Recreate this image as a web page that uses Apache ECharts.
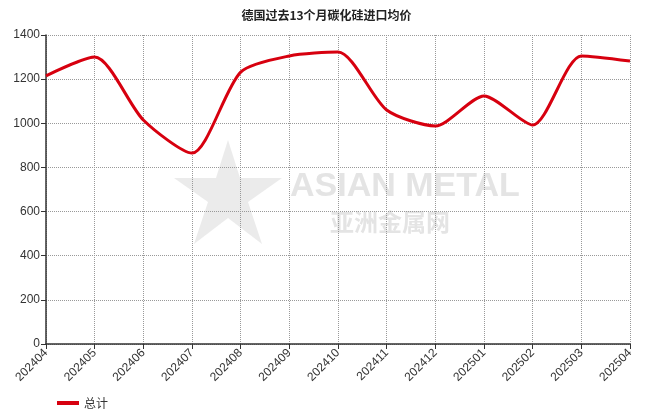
<!DOCTYPE html>
<html><head><meta charset="utf-8">
<script src="https://cdn.jsdelivr.net/npm/echarts@6/dist/echarts.min.js"></script>
<style>html,body{margin:0;padding:0;background:#fff}#c{width:653px;height:417px}</style>
</head><body><div id="c"></div>
<script>
var categories = ['202404','202405','202406','202407','202408','202409','202410','202411','202412','202501','202502','202503','202504'];
var totalValues = [1215, 1300, 1015, 865, 1232, 1305, 1323, 1060, 988, 1124, 992, 1305, 1282];
var yTicks = [0, 200, 400, 600, 800, 1000, 1200, 1400];

var chart = echarts.init(document.getElementById('c'));
chart.setOption({
  animation: false,
  backgroundColor: '#fff',
  title: {
    text: '德国过去13个月碳化硅进口均价',
    left: 'center', top: 4,
    textStyle: {fontSize: 12, fontWeight: 'bold', color: '#222', fontFamily: 'Noto Sans CJK SC'}
  },
  graphic: [
    {type: 'polygon', silent: true, z: -1, shape: {points: [[228,140],[240,178],[282,178],[248,202],[262,244],[228,218],[194,244],[208,202],[174,178],[216,178]]}, style: {fill: 'rgba(215,215,215,0.5)'}},
    {type: 'text', left: 290, top: 170, z: -1, style: {text: 'ASIAN METAL', fontSize: 34, fontWeight: 'bold', fill: 'rgba(205,205,205,0.55)', fontFamily: 'Liberation Sans'}},
    {type: 'text', left: 330, top: 210, z: -1, style: {text: '亚洲金属网', fontSize: 24, fontWeight: 'bold', fill: 'rgba(205,205,205,0.55)', fontFamily: 'Noto Sans CJK SC'}}
  ],
  legend: {
    left: 52, bottom: 3,
    itemWidth: 22, itemHeight: 4,
    icon: 'rect',
    textStyle: {fontSize: 12, color: '#333', fontFamily: 'Noto Sans CJK SC'},
    data: ['总计']
  },
  grid: {left: 46, right: 23, top: 35, bottom: 73, containLabel: false},
  xAxis: {
    type: 'category', data: categories, boundaryGap: false,
    axisLine: {lineStyle: {color: '#333', width: 1.5}},
    axisTick: {show: true, length: 5, lineStyle: {color: '#333'}},
    axisLabel: {rotate: 45, fontSize: 12, color: '#333', fontFamily: 'Liberation Sans', margin: 7},
    splitLine: {show: true, lineStyle: {color: '#999', type: 'dotted', width: 1}}
  },
  yAxis: {
    type: 'value', min: 0, max: 1400, interval: 200,
    axisLine: {show: true, lineStyle: {color: '#333', width: 1.5}},
    axisTick: {show: true, length: 5, lineStyle: {color: '#333'}},
    axisLabel: {fontSize: 12, color: '#333', fontFamily: 'Liberation Sans', margin: 6, formatter: function (v) { return String(v); }},
    splitLine: {show: true, lineStyle: {color: '#999', type: 'dotted', width: 1}}
  },
  series: [{
    name: '总计', type: 'line', data: totalValues, smooth: 0.25,
    symbol: 'none',
    lineStyle: {color: '#d7000f', width: 3},
    itemStyle: {color: '#d7000f'}
  }]
});
</script></body></html>
